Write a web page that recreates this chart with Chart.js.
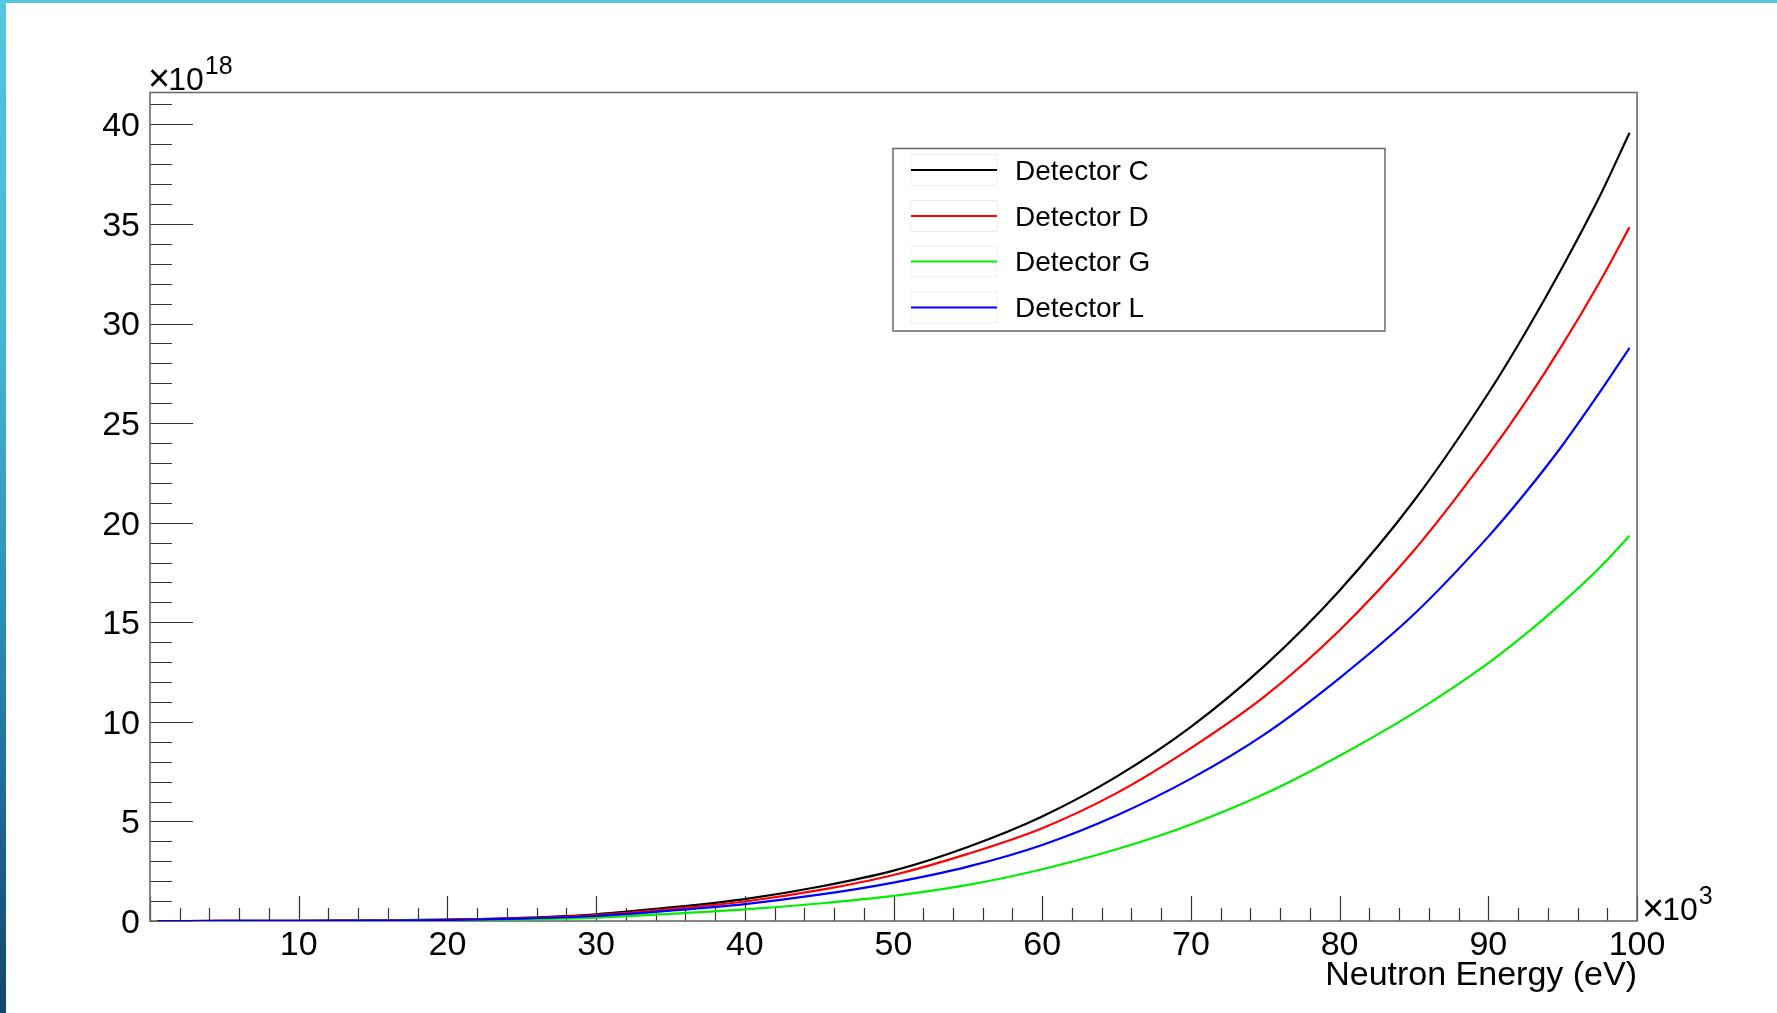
<!DOCTYPE html>
<html>
<head>
<meta charset="utf-8">
<title>Neutron Energy</title>
<script src="https://cdn.jsdelivr.net/npm/chart.js@4.4.1/dist/chart.umd.min.js"></script>
<style>
  html, body { margin: 0; padding: 0; background: #fff; }
  #wrap { position: relative; width: 1777px; height: 1013px; overflow: hidden; }
  #chart { position: absolute; left: 0; top: 0; }
  .bar-top { position: absolute; left: 0; top: 0; width: 1777px; height: 3px; background: #55c4dc; }
  .bar-left { position: absolute; left: 0; top: 0; width: 6px; height: 1013px;
              background: linear-gradient(#55c6de 0%, #45b4d2 35%, #2a86ad 65%, #1b5f8a 85%, #14476f 100%); }
</style>
</head>
<body>
<div id="wrap">
  <canvas id="chart" width="1777" height="1013"></canvas>
  <div class="bar-top"></div>
  <div class="bar-left"></div>
</div>
<script>
// Neutron energy in units of 10^3 eV
const energy = [0.5, 5, 10, 15, 20, 25, 30, 35, 40, 45, 50, 55, 60, 65, 70, 75, 80, 85, 90, 92.5, 95, 97.5, 99.5];

// Detector response, in units of 10^18
const detectorC = [0, 0.003, 0.01, 0.03, 0.07, 0.16, 0.34, 0.68, 1.1, 1.72, 2.53, 3.72, 5.25, 7.25, 9.75, 12.85, 16.6, 21.1, 26.5, 29.55, 32.85, 36.4, 39.58];
const detectorD = [0, 0.003, 0.009, 0.027, 0.06, 0.14, 0.3, 0.6, 0.98, 1.55, 2.31, 3.37, 4.66, 6.42, 8.68, 11.3, 14.6, 18.6, 23.4, 26.05, 28.95, 32.1, 34.84];
const detectorG = [0, 0.001, 0.005, 0.013, 0.035, 0.08, 0.17, 0.36, 0.58, 0.88, 1.26, 1.81, 2.6, 3.6, 4.85, 6.4, 8.3, 10.45, 12.95, 14.4, 16.0, 17.75, 19.35];
const detectorL = [0, 0.002, 0.008, 0.022, 0.05, 0.12, 0.25, 0.52, 0.85, 1.32, 1.93, 2.73, 3.82, 5.3, 7.15, 9.4, 12.2, 15.4, 19.3, 21.5, 23.9, 26.55, 28.78];

const seriesNames = ['Detector C', 'Detector D', 'Detector G', 'Detector L'];
const seriesColors = ['#000000', '#ff0000', '#00ee00', '#0000ff'];
const seriesValues = [detectorC, detectorD, detectorG, detectorL];

const xRange = [0, 100];
const yRange = [0, 41.6];
const xMajor = 10, xMinor = 2;
const yMajor = 5, yMinor = 1;
const xLabels = [10, 20, 30, 40, 50, 60, 70, 80, 90, 100];
const yLabels = [0, 5, 10, 15, 20, 25, 30, 35, 40];

const FONT = '"Liberation Sans", Arial, Helvetica, sans-serif';

const datasets = seriesNames.map((name, i) => ({
  label: name,
  data: energy.map((e, k) => ({ x: e, y: seriesValues[i][k] })),
  borderColor: seriesColors[i],
  borderWidth: 2.2,
  pointRadius: 0,
  fill: false,
  cubicInterpolationMode: 'monotone',
  order: seriesNames.length - i
}));

// "×10^n" multiplier text: a large times sign, the base, then a raised exponent
function drawMultiplier(ctx, x, baseline, exponent) {
  ctx.font = '38px ' + FONT;
  ctx.fillText('\u00d7', x - 2, baseline + 1);
  let cx = x - 2 + ctx.measureText('\u00d7').width - 2;
  ctx.font = '32px ' + FONT;
  ctx.fillText('10', cx, baseline);
  cx += ctx.measureText('10').width + 1;
  ctx.font = '25px ' + FONT;
  ctx.fillText(exponent, cx, baseline - 16);
}

// Frame, inward tick marks, exponent labels and the boxed legend
const frameAndLegend = {
  id: 'frameAndLegend',
  beforeDatasetsDraw(chart) {
    const { ctx, chartArea: a, scales: { x, y } } = chart;
    ctx.save();
    ctx.strokeStyle = '#333';
    ctx.lineWidth = 1.2;
    ctx.beginPath();
    for (let v = xRange[0]; v <= xRange[1] + 1e-9; v += xMinor) {
      const px = Math.round(x.getPixelForValue(v)) + 0.5;
      const major = Math.abs(v / xMajor - Math.round(v / xMajor)) < 1e-6;
      const len = major ? 25 : 13;
      ctx.moveTo(px, a.bottom);
      ctx.lineTo(px, a.bottom - len);
    }
    for (let v = yRange[0]; v <= yRange[1] + 1e-9; v += yMinor) {
      const py = Math.round(y.getPixelForValue(v)) + 0.5;
      const major = Math.abs(v / yMajor - Math.round(v / yMajor)) < 1e-6;
      const len = major ? 43 : 22;
      ctx.moveTo(a.left, py);
      ctx.lineTo(a.left + len, py);
    }
    ctx.stroke();
    ctx.strokeStyle = '#6a6a6a';
    ctx.lineWidth = 1.6;
    ctx.strokeRect(a.left, a.top, a.right - a.left, a.bottom - a.top);
    ctx.restore();
  },
  afterDatasetsDraw(chart) {
    const { ctx, chartArea: a } = chart;
    ctx.save();
    ctx.fillStyle = '#000';
    ctx.textBaseline = 'alphabetic';
    ctx.textAlign = 'left';

    drawMultiplier(ctx, a.left, a.top - 3, '18');
    drawMultiplier(ctx, a.right + 7, a.bottom - 1, '3');

    // legend box
    const box = { left: 893, top: 148.5, right: 1385, bottom: 331 };
    ctx.fillStyle = '#fff';
    ctx.fillRect(box.left, box.top, box.right - box.left, box.bottom - box.top);
    ctx.strokeStyle = '#6a6a6a';
    ctx.lineWidth = 1.5;
    ctx.strokeRect(box.left, box.top, box.right - box.left, box.bottom - box.top);

    const rowY = [170, 216, 261.5, 307.5];
    chart.data.datasets.forEach((ds, i) => {
      const cy = rowY[i];
      ctx.strokeStyle = '#efefef';
      ctx.lineWidth = 1;
      ctx.strokeRect(911, cy - 15.5, 86, 31);
      ctx.strokeStyle = ds.borderColor;
      ctx.lineWidth = 2;
      ctx.beginPath();
      ctx.moveTo(911, cy);
      ctx.lineTo(997, cy);
      ctx.stroke();
      ctx.fillStyle = '#000';
      ctx.font = '28px ' + FONT;
      ctx.textBaseline = 'middle';
      ctx.fillText(ds.label, 1015, cy + 2);
    });
    ctx.restore();
  }
};

new Chart(document.getElementById('chart'), {
  type: 'line',
  data: { datasets },
  options: {
    responsive: false,
    animation: false,
    devicePixelRatio: 1,
    layout: { padding: { left: 0, top: 92.5, right: 140, bottom: 0 } },
    plugins: { legend: { display: false }, tooltip: { enabled: false } },
    scales: {
      x: {
        type: 'linear',
        min: xRange[0],
        max: xRange[1],
        grid: { display: false, drawTicks: false },
        border: { display: false },
        afterBuildTicks(scale) { scale.ticks = xLabels.map((v) => ({ value: v })); },
        ticks: {
          autoSkip: false,
          padding: 4,
          color: '#000',
          font: { family: FONT, size: 34 },
          maxRotation: 0,
          callback: (v) => String(v)
        },
        title: {
          display: true,
          text: 'Neutron Energy (eV)',
          align: 'end',
          color: '#000',
          font: { family: FONT, size: 34 },
          padding: { top: 0, bottom: 17 }
        },
        afterFit(scale) { scale.height = 92; }
      },
      y: {
        type: 'linear',
        min: yRange[0],
        max: yRange[1],
        grid: { display: false, drawTicks: false },
        border: { display: false },
        afterBuildTicks(scale) { scale.ticks = yLabels.map((v) => ({ value: v })); },
        ticks: {
          autoSkip: false,
          padding: 10,
          labelOffset: 2.5,
          color: '#000',
          font: { family: FONT, size: 34 },
          callback: (v) => String(v)
        },
        afterFit(scale) { scale.width = 150; }
      }
    }
  },
  plugins: [frameAndLegend]
});
</script>
</body>
</html>
